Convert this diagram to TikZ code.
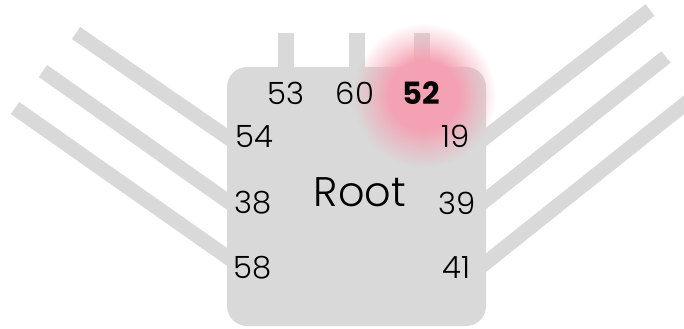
\documentclass[tikz,border=0pt]{standalone}
\usepackage{fontspec}
\setmainfont{Poppins Light}[BoldFont={Poppins Bold}]
\usetikzlibrary{fadings}
\definecolor{boxgray}{HTML}{D9D9D9}
\definecolor{glowpink}{HTML}{F4A2B3}
\pgfdeclareradialshading{glowmask}{\pgfpointorigin}{color(0bp)=(white); color(12bp)=(white); color(18bp)=(white!50!black); color(25bp)=(black); color(50bp)=(black)}
\pgfdeclarefading{glowfade}{\pgfuseshading{glowmask}}
\begin{document}
\begin{tikzpicture}[x=0.75pt,y=-0.75pt,
  wire/.style={draw=boxgray,line width=11pt},
  stub/.style={draw=boxgray,line width=12pt},
  port/.style={inner sep=0pt,text=black,font=\fontsize{23}{23}\selectfont},
  hotport/.style={port,font=\fontsize{23}{23}\selectfont\bfseries},
  rootlabel/.style={inner sep=0pt,text=black,font=\fontsize{31}{31}\selectfont},
  rootbox/.style={fill=boxgray,rounded corners=15pt,minimum width=194.25pt,minimum height=194.25pt,inner sep=0pt}]
\useasboundingbox (0,0) rectangle (684,328);
% wire ends
\coordinate (l1o) at (76,33);   \coordinate (l1i) at (240,146);
\coordinate (l2o) at (43,71);   \coordinate (l2i) at (240,210);
\coordinate (l3o) at (15,108);  \coordinate (l3i) at (240,266);
\coordinate (r1o) at (650,10);  \coordinate (r1i) at (473,147);
\coordinate (r2o) at (666,57);  \coordinate (r2i) at (473,210);
\coordinate (r3o) at (700,92);  \coordinate (r3i) at (473,273);
\coordinate (t1o) at (286,33);  \coordinate (t1i) at (286,80);
\coordinate (t2o) at (357,33);  \coordinate (t2i) at (357,80);
\coordinate (t3o) at (422,33);  \coordinate (t3i) at (422,80);
\draw[wire] (l1o) -- (l1i);
\draw[wire] (l2o) -- (l2i);
\draw[wire] (l3o) -- (l3i);
\draw[wire] (r1o) -- (r1i);
\draw[wire] (r2o) -- (r2i);
\draw[wire] (r3o) -- (r3i);
\draw[stub] (t1o) -- (t1i);
\draw[stub] (t2o) -- (t2i);
\draw[stub] (t3o) -- (t3i);
% box
\node[rootbox] (root) at (356.5,196.5) {};
% glow
\fill[glowpink, path fading=glowfade] (424,95) circle (72);
% labels
\node[rootlabel] (rootname) at (360,192.5) {Root};
\node[port] (p53) at (286,93) {53};
\node[port] (p60) at (355,93) {60};
\node[hotport] (p52) at (421.5,93) {52};
\node[port] (p54) at (254,137) {54};
\node[port] (p38) at (253,202.5) {38};
\node[port] (p58) at (253,267.5) {58};
\node[port] (p19) at (456,136) {19};
\node[port] (p39) at (457,203) {39};
\node[port] (p41) at (456.5,267.5) {41};
\end{tikzpicture}
\end{document}
